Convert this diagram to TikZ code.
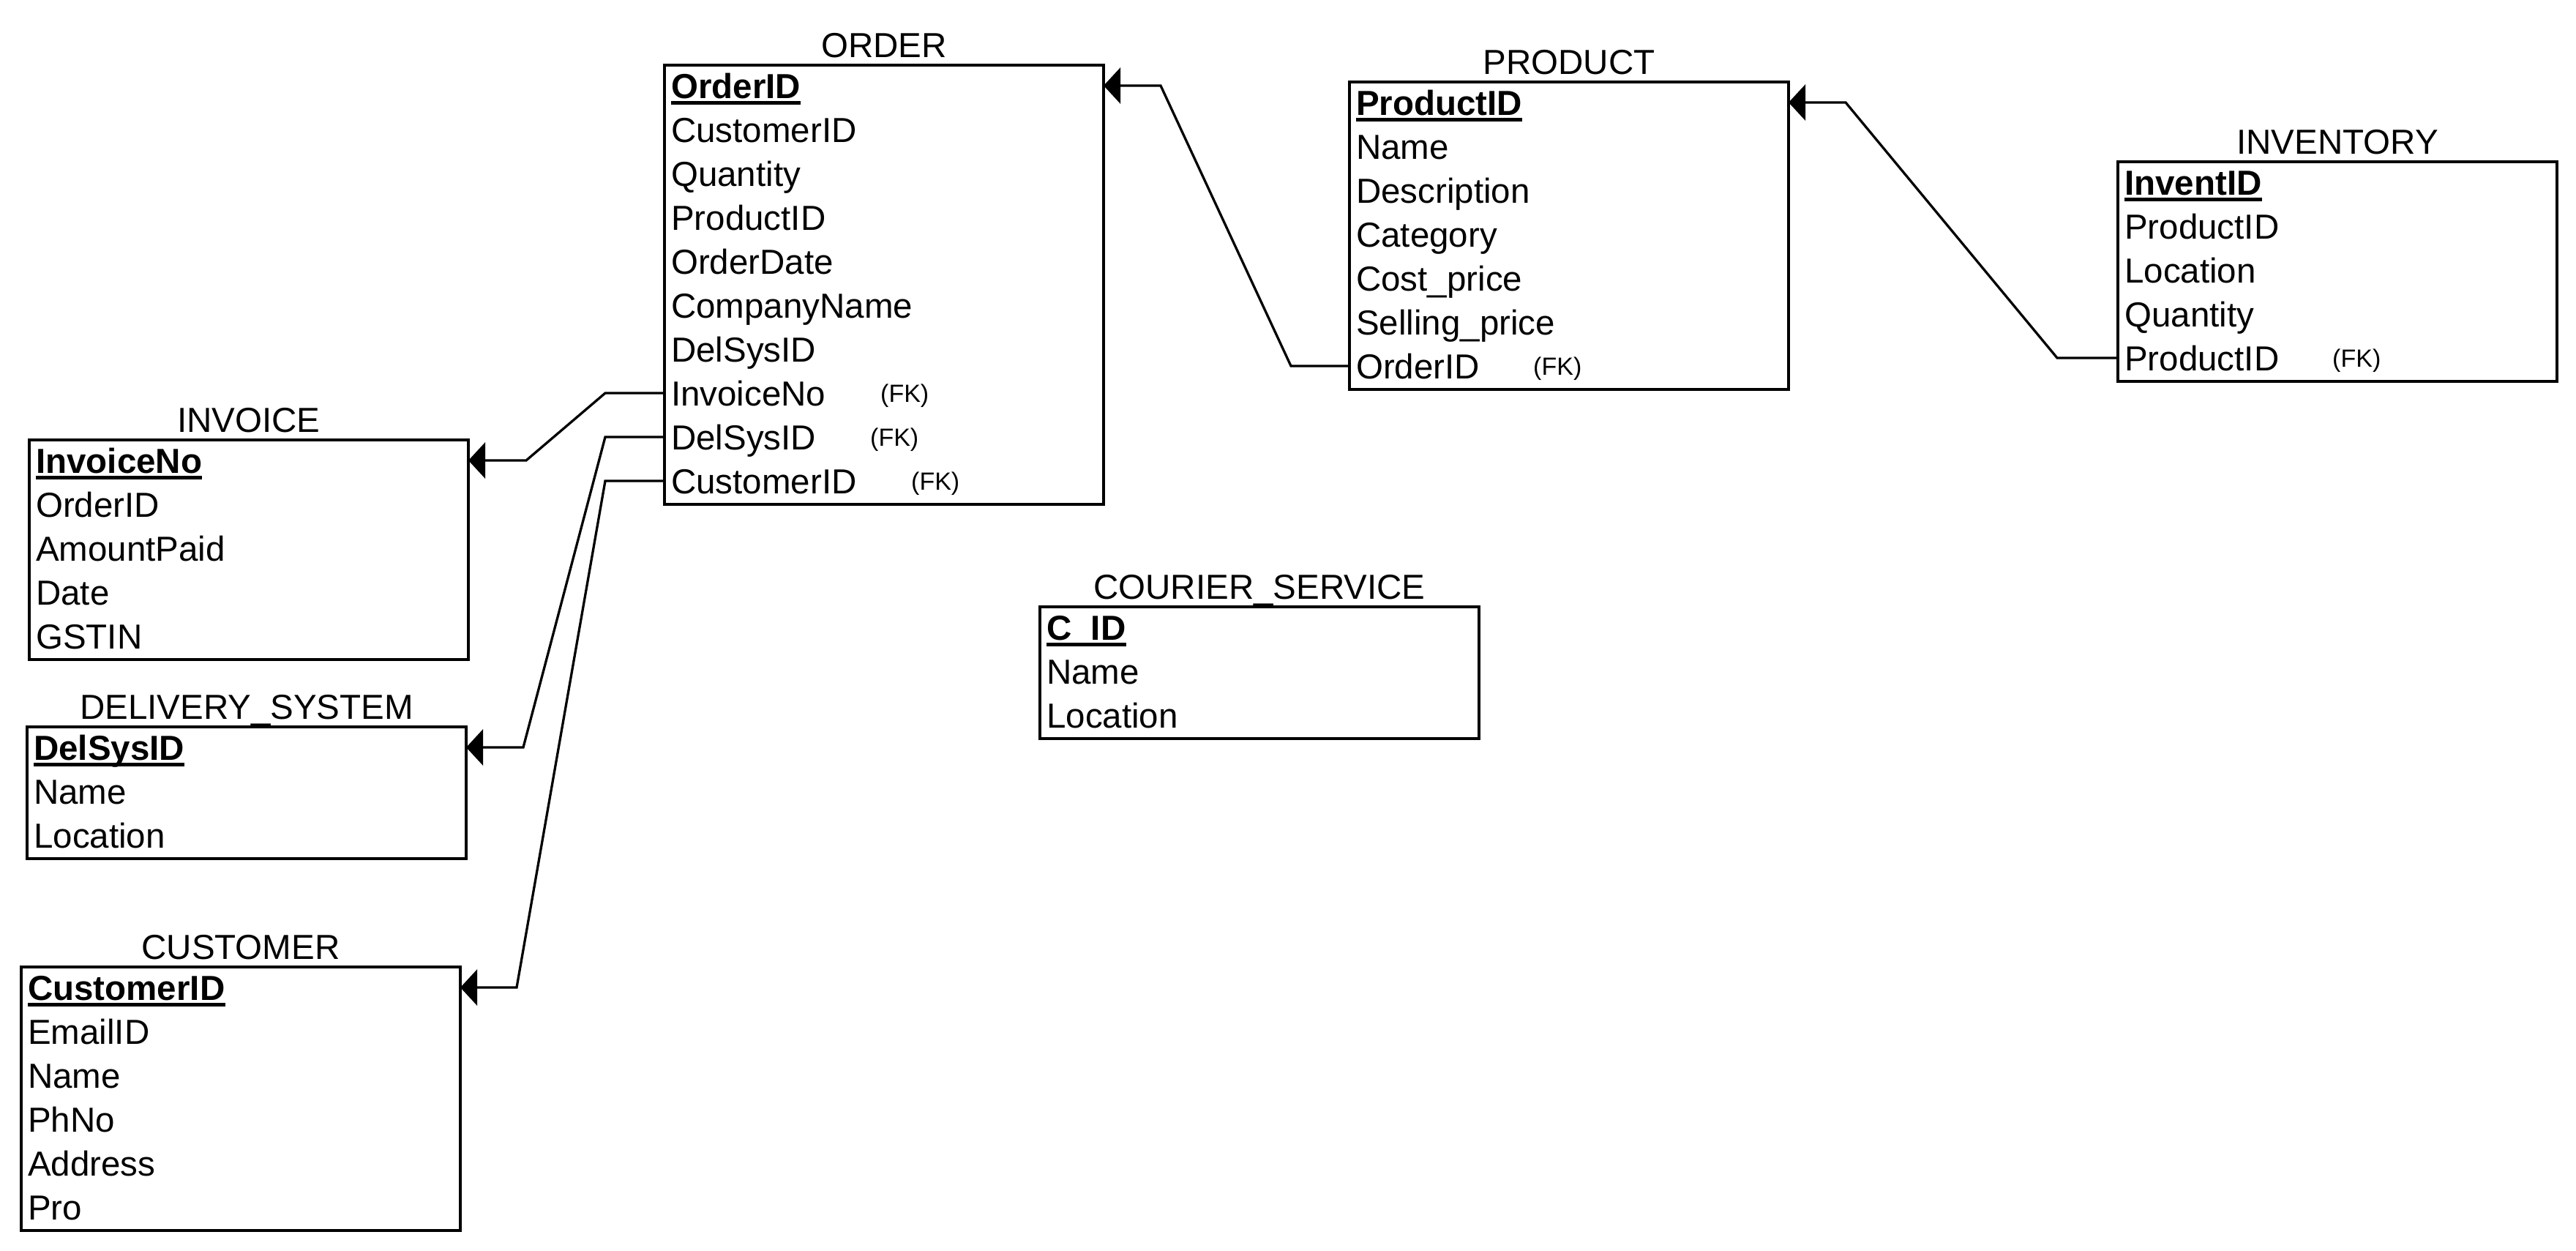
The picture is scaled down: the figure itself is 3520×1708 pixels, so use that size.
\documentclass[tikz,border=0pt]{standalone}
\usepackage{fontspec}
\setmainfont{Liberation Sans}
\usetikzlibrary{calc,arrows.meta}
\newcommand\rowfont{\fontsize{47.5pt}{56pt}\selectfont}
\newcommand\pkfont{\fontsize{47.5pt}{56pt}\selectfont\bfseries}
\newcommand\fkfont{\fontsize{34pt}{40pt}\selectfont}
\tikzset{
  tbox/.style={draw, line width=4pt, rectangle, inner sep=0pt, outer sep=0pt, minimum width=600pt, anchor=north west},
  ttl/.style={anchor=base, inner sep=0pt, font=\rowfont},
  row/.style={anchor=west, inner sep=0pt, text height=34pt, text depth=0pt, font=\rowfont},
  pkrow/.style={row, font=\pkfont},
  fk/.style={anchor=west, inner sep=0pt, text height=24.3pt, text depth=0pt, font=\fkfont},
  uline/.style={line width=4.5pt},
  conn/.style={line width=3.3pt, -{Triangle[length=23pt,width=49pt]}}
}
% name, x, top, n, title, pk, other rows
\newcommand\ertable[7]{%
  \node[tbox, minimum height=#4*60pt] (#1) at (#2,#3) {};
  \node[ttl] (#1-t) at ($(#1.north)+(0,-11)$) {#5};
  \node[pkrow] (#1-0) at ($(#1.north west)+(9,28)$) {#6};
  \draw[uline] ($(#1-0.south west)+(0,6.5)$) -- ($(#1-0.south east)+(0,6.5)$);
  \foreach \r [count=\i] in {#7} {
    \node[row] (#1-\i) at ($(#1.north west)+(9,28+60*\i)$) {\r};
  }%
}
\begin{document}
\begin{tikzpicture}[x=1pt,y=-1pt]
\useasboundingbox (0,0) rectangle (3520,1708);
\fill[white] (0,0) rectangle (3520,1708);

\ertable{ord}{908}{89}{10}{ORDER}{OrderID}{CustomerID,Quantity,ProductID,OrderDate,CompanyName,DelSysID,InvoiceNo,DelSysID,CustomerID}
\ertable{prod}{1844}{112}{7}{PRODUCT}{ProductID}{Name,Description,Category,Cost\_price,Selling\_price,OrderID}
\ertable{invt}{2894}{221}{5}{INVENTORY}{InventID}{ProductID,Location,Quantity,ProductID}
\ertable{invc}{40}{601}{5}{INVOICE}{InvoiceNo}{OrderID,AmountPaid,Date,GSTIN}
\ertable{del}{37}{993}{3}{DELIVERY\_SYSTEM}{DelSysID}{Name,Location}
\ertable{cus}{29}{1321}{6}{CUSTOMER}{CustomerID}{EmailID,Name,PhNo,Address,Pro}
\ertable{cour}{1421}{829}{3}{COURIER\_SERVICE}{C\_ID}{Name,Location}

% FK labels
\node[fk] (ord-fk7) at ($(ord-7.west)+(286,0)$) {(FK)};
\node[fk] (ord-fk8) at ($(ord-8.west)+(272,0)$) {(FK)};
\node[fk] (ord-fk9) at ($(ord-9.west)+(328,0)$) {(FK)};
\node[fk] (prod-fk6) at ($(prod-6.west)+(242,0)$) {(FK)};
\node[fk] (invt-fk4) at ($(invt-4.west)+(284,0)$) {(FK)};

% bend points
\coordinate (b1a) at (1764,0);
\coordinate (b1b) at (1586,0);
\coordinate (b2a) at (2811,0);
\coordinate (b2b) at (2522,0);
\coordinate (b3a) at (827,0);
\coordinate (b3b) at (719,0);
\coordinate (b4b) at (715,0);
\coordinate (b5b) at (706,0);

% connectors
\draw[conn] (prod.west |- prod-6) -- (b1a |- prod-6) -- (b1b |- ord-0) -- (ord.east |- ord-0);
\draw[conn] (invt.west |- invt-4) -- (b2a |- invt-4) -- (b2b |- prod-0) -- (prod.east |- prod-0);
\draw[conn] (ord.west |- ord-7) -- (b3a |- ord-7) -- (b3b |- invc-0) -- (invc.east |- invc-0);
\draw[conn] (ord.west |- ord-8) -- (b3a |- ord-8) -- (b4b |- del-0) -- (del.east |- del-0);
\draw[conn] (ord.west |- ord-9) -- (b3a |- ord-9) -- (b5b |- cus-0) -- (cus.east |- cus-0);
\end{tikzpicture}
\end{document}
